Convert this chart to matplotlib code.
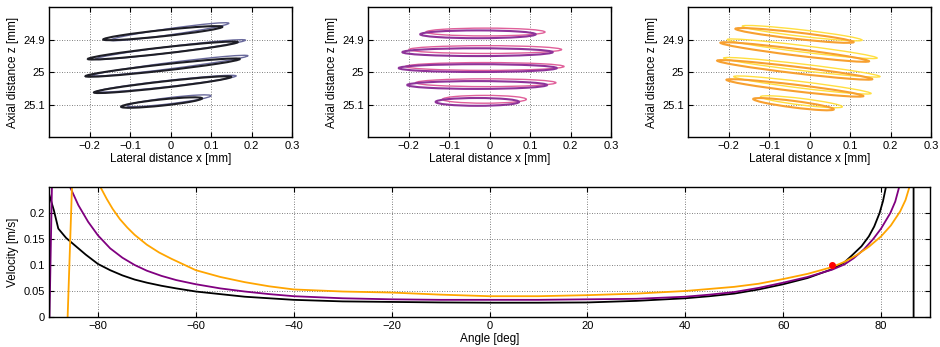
import numpy as np
import matplotlib.pyplot as plt
from matplotlib.patches import Ellipse

plt.rcParams['font.family'] = ['Liberation Sans', 'DejaVu Sans']

# ---- top panels: each loop is given by its left tip and right tip (x [mm], z [mm])
black_left_tips = [(-0.166, 24.900), (-0.204, 24.960), (-0.210, 25.013), (-0.189, 25.063), (-0.122, 25.107)]
black_right_tips = [(0.128, 24.861), (0.166, 24.908), (0.171, 24.960), (0.150, 25.015), (0.078, 25.081)]
grey_left_tips = [(-0.148, 24.902), (-0.185, 24.960), (-0.193, 25.011), (-0.181, 25.060), (-0.107, 25.104)]
grey_right_tips = [(0.144, 24.850), (0.185, 24.902), (0.191, 24.950), (0.162, 25.012), (0.100, 25.073)]

purple_left_tips = [(-0.171, 24.884), (-0.215, 24.939), (-0.224, 24.988), (-0.203, 25.040), (-0.133, 25.092)]
purple_right_tips = [(0.114, 24.884), (0.156, 24.939), (0.166, 24.988), (0.142, 25.040), (0.073, 25.092)]
pink_left_tips = [(-0.157, 24.877), (-0.199, 24.931), (-0.207, 24.983), (-0.182, 25.033), (-0.116, 25.084)]
pink_right_tips = [(0.137, 24.877), (0.178, 24.931), (0.184, 24.983), (0.164, 25.033), (0.091, 25.084)]

orange_left_tips = [(-0.183, 24.867), (-0.220, 24.910), (-0.228, 24.965), (-0.205, 25.024), (-0.139, 25.083)]
orange_right_tips = [(0.109, 24.908), (0.147, 24.967), (0.155, 25.022), (0.133, 25.074), (0.060, 25.115)]
yellow_left_tips = [(-0.166, 24.859), (-0.203, 24.900), (-0.212, 24.957), (-0.187, 25.014), (-0.121, 25.076)]
yellow_right_tips = [(0.130, 24.902), (0.167, 24.957), (0.174, 25.014), (0.152, 25.066), (0.081, 25.107)]

# ---- bottom panel: velocity vs angle
black_angle = [-90, -89, -88.1, -86.5, -85, -82.5, -80, -77.5, -75, -72.5, -70, -67, -64, -60, -55, -50,
               -45, -40, -30, -20, -10, 0, 10, 20, 30, 40, 45, 50, 55, 60, 65, 70, 72.5, 74, 76, 77.5,
               78.6, 79.7, 80.4, 81.0, 82.5, 84, 86.6, 86.7]
black_vel = [0.237, 0.205, 0.170, 0.152, 0.140, 0.120, 0.102, 0.090, 0.080, 0.072, 0.066, 0.060, 0.055,
             0.049, 0.044, 0.039, 0.036, 0.033, 0.030, 0.029, 0.028, 0.0275, 0.0275, 0.028, 0.031, 0.036,
             0.040, 0.045, 0.053, 0.063, 0.075, 0.092, 0.105, 0.118, 0.136, 0.155, 0.174, 0.200, 0.223,
             0.250, 0.33, 0.45, 3.0, -3.0]
purple_angle = [-89.9, -89.4, -88, -85.7, -84, -82, -80, -77.5, -75, -72.5, -70, -67, -64, -60, -55, -50,
                -45, -40, -30, -20, -10, 0, 10, 20, 30, 40, 45, 50, 55, 60, 65, 70, 72.5, 74.4, 76.5,
                78.4, 80, 81.9, 82.9, 83.7, 86]
purple_vel = [0.0, 0.25, 0.40, 0.250, 0.215, 0.183, 0.157, 0.132, 0.114, 0.100, 0.089, 0.079, 0.071,
              0.063, 0.055, 0.049, 0.044, 0.040, 0.036, 0.034, 0.033, 0.033, 0.033, 0.034, 0.035, 0.039,
              0.043, 0.048, 0.056, 0.066, 0.077, 0.091, 0.101, 0.113, 0.130, 0.150, 0.170, 0.200, 0.222,
              0.250, 0.40]
orange_angle = [-86.3, -85.2, -82, -79.5, -78.2, -77, -75.5, -74, -72.5, -70, -67.5, -65, -62.5, -60, -55,
                -50, -45, -40, -30, -20, -10, 0, 10, 20, 30, 40, 50, 55, 60, 65, 70, 72.5, 75, 77.5,
                80, 82, 83.9, 85, 85.8, 88]
orange_vel = [-0.03, 0.28, 0.35, 0.250, 0.227, 0.208, 0.188, 0.172, 0.158, 0.139, 0.124, 0.112, 0.101,
              0.090, 0.077, 0.067, 0.059, 0.053, 0.049, 0.047, 0.043, 0.040, 0.040, 0.042, 0.045, 0.050,
              0.058, 0.064, 0.073, 0.083, 0.096, 0.106, 0.119, 0.135, 0.155, 0.176, 0.203, 0.225, 0.250,
              0.30]
marker_angle = [69.9]
marker_vel = [0.1006]

top_panels = [
    (black_left_tips, black_right_tips, grey_left_tips, grey_right_tips, '#1e1e26', '#6a6a9c', 0.019),
    (purple_left_tips, purple_right_tips, pink_left_tips, pink_right_tips, '#8e3399', '#e0609a', 0.024),
    (orange_left_tips, orange_right_tips, yellow_left_tips, yellow_right_tips, '#f7a030', '#ffdf40', 0.020),
]
top_lefts = [49, 368, 688]

W, H = 940, 347
fig = plt.figure(figsize=(W / 100, H / 100), dpi=100)


def style(ax):
    ax.tick_params(direction='in', top=True, right=True, length=3.5, width=0.8, labelsize=8, pad=3)
    for s in ax.spines.values():
        s.set_linewidth(1.0)
    ax.grid(True, linestyle=(0, (1, 2)), color='#555555', linewidth=0.6)
    ax.set_axisbelow(True)


def add_loops(ax, lefts, rights, color, lw, thick):
    for (xl, zl), (xr, zr) in zip(lefts, rights):
        dx, dz = xr - xl, zr - zl
        e = Ellipse(((xl + xr) / 2, (zl + zr) / 2), np.hypot(dx, dz), thick,
                    angle=np.degrees(np.arctan2(dz, dx)), fill=False, edgecolor=color, linewidth=lw)
        ax.add_patch(e)


for left_px, (dl, dr, ll, lr, dcol, lcol, thick) in zip(top_lefts, top_panels):
    ax = fig.add_axes([left_px / W, 1 - 137 / H, 243 / W, 130 / H])
    style(ax)
    add_loops(ax, ll, lr, lcol, 1.0, thick)
    add_loops(ax, dl, dr, dcol, 1.5, thick)
    ax.set_xlim(-0.3, 0.3)
    ax.set_ylim(25.2, 24.8)
    ax.set_xticks([-0.2, -0.1, 0, 0.1, 0.2, 0.3])
    ax.set_xticklabels(['\u22120.2', '\u22120.1', '0', '0.1', '0.2', '0.3'])
    ax.set_yticks([24.9, 25.0, 25.1])
    ax.set_yticklabels(['24.9', '25', '25.1'])
    ax.set_xlabel('Lateral distance x [mm]', fontsize=8.5, labelpad=1)
    ax.set_ylabel('Axial distance z [mm]', fontsize=8.5, labelpad=3)

ax = fig.add_axes([49 / W, 1 - 317 / H, 881 / W, 130 / H])
style(ax)
ax.plot(black_angle, black_vel, color='black', linewidth=1.3)
ax.plot(purple_angle, purple_vel, color='#800080', linewidth=1.3)
ax.plot(orange_angle, orange_vel, color='#ffa500', linewidth=1.3)
ax.plot(marker_angle, marker_vel, 'o', color='red', markersize=4)
ax.set_xlim(-90, 90)
ax.set_ylim(0, 0.25)
ax.set_xticks(range(-80, 81, 20))
ax.set_xticklabels(['\u221280', '\u221260', '\u221240', '\u221220', '0', '20', '40', '60', '80'])
ax.set_yticks([0, 0.05, 0.1, 0.15, 0.2])
ax.set_yticklabels(['0', '0.05', '0.1', '0.15', '0.2'])
ax.set_xlabel('Angle [deg]', fontsize=8.5, labelpad=1)
ax.set_ylabel('Velocity [m/s]', fontsize=8.5, labelpad=3)

fig.savefig('out.png', dpi=100)
